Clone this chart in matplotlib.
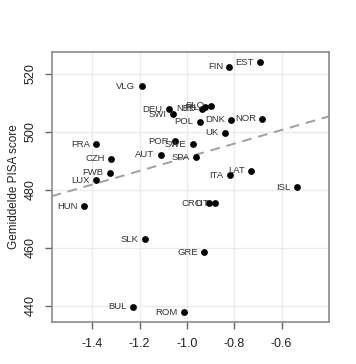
import matplotlib

matplotlib.use("Agg")
import matplotlib.pyplot as plt
import numpy as np

# Country codes with x value and mean PISA score
countries = [
    "VLG", "EST", "FIN", "DEU", "SWI", "NED", "IRL", "SLO", "POL", "DNK",
    "NOR", "UK", "FRA", "CZH", "FWB", "LUX", "HUN", "SLK", "AUT", "POR",
    "SWE", "SPA", "ITA", "LAT", "ISL", "CRO", "LIT", "GRE", "ROM", "BUL",
]
x_vals = [
    -1.191, -0.691, -0.821, -1.076, -1.061, -0.937, -0.924, -0.899, -0.946, -0.813,
    -0.682, -0.841, -1.383, -1.320, -1.327, -1.383, -1.435, -1.179, -1.111, -1.050,
    -0.976, -0.963, -0.820, -0.730, -0.537, -0.908, -0.880, -0.926, -1.014, -1.230,
]
scores = [
    515.6, 524.0, 522.4, 507.8, 506.0, 507.9, 508.4, 509.0, 503.5, 504.2,
    504.4, 499.7, 495.6, 490.6, 485.9, 483.2, 474.3, 462.9, 492.1, 496.8,
    495.7, 491.2, 485.0, 486.6, 480.9, 475.3, 475.3, 458.4, 437.7, 439.7,
]

# Fitted line (intercept, slope) as drawn in the picture
fit_intercept = 514.7
fit_slope = 23.5

x_ticks = [-1.4, -1.2, -1.0, -0.8, -0.6]
y_ticks = [440, 460, 480, 500, 520]

plt.rcParams.update({"font.family": "Liberation Sans"})

fig = plt.figure(figsize=(3.56, 3.64), dpi=100)
ax = fig.add_axes([0.145, 0.1146, 0.779, 0.7434])

ax.set_xlim(-1.572, -0.400)
ax.set_ylim(434.3, 527.6)

ax.set_xticks(x_ticks)
ax.set_yticks(y_ticks)
ax.set_xticklabels([f"{v:.1f}" for v in x_ticks])
ax.set_yticklabels([str(v) for v in y_ticks], rotation=90, va="center")
ax.grid(True, color="#ebebeb", lw=1.0)
ax.set_axisbelow(True)

for spine in ax.spines.values():
    spine.set_color("#8a8a8a")
    spine.set_linewidth(1.2)

ax.tick_params(axis="both", colors="#666666", length=5, width=1.0,
               labelsize=9, labelcolor="#222222", pad=6)

# regression line
xl = np.array(ax.get_xlim())
ax.plot(xl, fit_intercept + fit_slope * xl, color="#a0a0a0", lw=1.4,
        ls=(0, (5, 3.5)), zorder=2)

ax.scatter(x_vals, scores, s=24, color="black", zorder=3, linewidths=0)

for name, xv, yv in zip(countries, x_vals, scores):
    ax.annotate(name, (xv, yv), xytext=(-4.5, 0), textcoords="offset points",
                ha="right", va="center", fontsize=6.8, color="#333333", zorder=4)

ax.set_ylabel("Gemiddelde PISA score", fontsize=8.5, color="#222222", labelpad=3)

fig.savefig("out.png", dpi=100)
